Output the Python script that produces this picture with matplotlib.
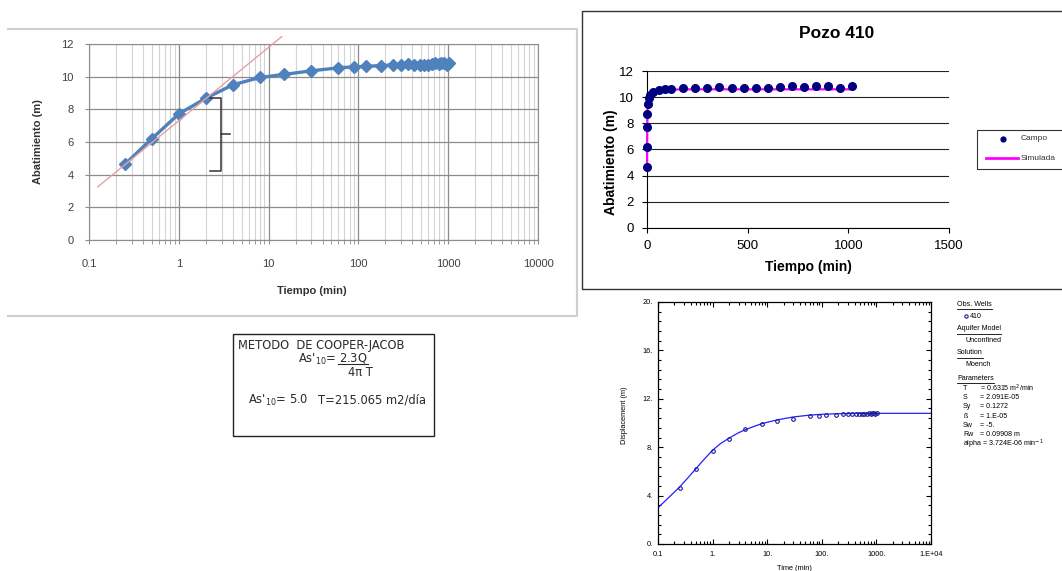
import matplotlib
matplotlib.use('Agg')
from matplotlib import pyplot as plt
from matplotlib.lines import Line2D
from matplotlib.patches import Rectangle
from matplotlib.ticker import LogLocator, NullFormatter, MultipleLocator, FuncFormatter, FixedLocator

plt.rcParams['font.family'] = ['Liberation Sans', 'DejaVu Sans']

# field drawdown, well 410
t_obs = [0.25, 0.5, 1, 2, 4, 8, 15, 30, 60, 90, 120, 180, 240, 300, 360, 420,
         480, 540, 600, 660, 720, 780, 840, 900, 960, 1020]
s_obs = [4.63, 6.2, 7.72, 8.68, 9.5, 9.95, 10.14, 10.36, 10.54, 10.6, 10.63, 10.68,
         10.72, 10.72, 10.78, 10.72, 10.72, 10.72, 10.72, 10.78, 10.85, 10.78,
         10.85, 10.85, 10.72, 10.85]

# simulated drawdown (Pozo 410 chart)
s_sim = [4.6, 6.2, 7.6, 8.7, 9.5, 9.95, 10.2, 10.4, 10.5, 10.55, 10.57, 10.6,
         10.6, 10.6, 10.6, 10.6, 10.6, 10.6, 10.6, 10.6, 10.6, 10.6, 10.6, 10.6,
         10.6, 10.6]

# Cooper-Jacob straight line
cj_t = [0.125, 14.0]
cj_s = [3.25, 12.45]

# Moench type curve (AQTESOLV)
aq_t = [0.1, 0.15, 0.2, 0.25, 0.35, 0.5, 0.7, 1, 1.4, 2, 3, 4, 6, 8, 15, 30,
        60, 100, 200, 500, 1000, 10000]
aq_s = [3.0, 3.75, 4.3, 4.72, 5.45, 6.25, 7.0, 7.75, 8.3, 8.75, 9.2, 9.45, 9.75,
        9.95, 10.25, 10.5, 10.65, 10.72, 10.77, 10.8, 10.8, 10.8]
aq_xlabels = ['0.1', '1.', '10.', '100.', '1000.', '1.E+04']
aq_ylabels = ['0.', '4.', '8.', '12.', '16.', '20.']

params = [('T', '= 0.6315 m$^{2}$/min'), ('S', '= 2.091E-05'), ('Sy', '= 0.1272'),
          ('ß', '= 1.E-05'), ('Sw', '= -5.'), ('Rw', '= 0.09908 m')]
alpha_line = 'alpha = 3.724E-06 min$^{-1}$'

W, H = 1062, 571


def fx(x):
    return x / W


def fy(y):
    return 1 - y / H


def box(x0, y0, x1, y1):
    return [x0 / W, 1 - y1 / H, (x1 - x0) / W, (y1 - y0) / H]


fig = plt.figure(figsize=(W / 100, H / 100), dpi=100)

# ---------- left: Excel semi-log chart ----------
fig.add_artist(Line2D([fx(8), fx(577), fx(577), fx(8)], [fy(29), fy(29), fy(316), fy(316)],
                      color='#cfcfcf', lw=1.5))
ax1 = fig.add_axes(box(89, 44, 538, 240))
ax1.set_xscale('log')
ax1.set_xlim(0.1, 10000)
ax1.set_ylim(0, 12)
ax1.xaxis.set_major_locator(LogLocator(base=10))
ax1.xaxis.set_minor_locator(LogLocator(base=10, subs=range(2, 10)))
ax1.xaxis.set_minor_formatter(NullFormatter())
ax1.xaxis.set_major_formatter(FuncFormatter(lambda v, p: '%g' % v))
ax1.yaxis.set_major_locator(MultipleLocator(2))
ax1.grid(which='major', color='#8c8c8c', lw=0.9)
ax1.grid(which='minor', axis='x', color='#d4d4d4', lw=0.8)
for sp in ax1.spines.values():
    sp.set_color('#8c8c8c')
ax1.tick_params(which='both', colors='#8c8c8c', labelcolor='#404040', labelsize=8, length=3)
ax1.tick_params(axis='x', pad=11)
ax1.tick_params(axis='y', pad=8)
ax1.plot(t_obs, s_obs, color='#4F81BD', lw=2.4, marker='D', ms=6, zorder=3)
ax1.plot(cj_t, cj_s, color='#E8A0A0', lw=1, clip_on=False, zorder=4)
ax1.plot([2.25, 2.98, 2.98, 2.25], [8.7, 8.7, 4.23, 4.23], color='#333333', lw=1.1, zorder=5)
ax1.plot([2.98, 3.69], [6.46, 6.46], color='#333333', lw=1.1, zorder=5)
ax1.set_ylabel('Abatimiento (m)', fontsize=8, fontweight='bold', color='#333333')
ax1.set_xlabel('Tiempo (min)', fontsize=8, fontweight='bold', color='#333333')
ax1.yaxis.set_label_coords(-0.103, 0.5)
ax1.xaxis.set_label_coords(0.497, -0.235)

# ---------- Cooper-Jacob text box ----------
fig.add_artist(Rectangle((fx(233), fy(436)), (434 - 233) / W, (436 - 334) / H,
                         transform=fig.transFigure, fill=False, edgecolor='#222222', lw=1))
tb = dict(fontsize=8.3, va='center', color='#2a2a2a', family='DejaVu Sans')
fig.text(fx(238), fy(345), 'METODO  DE COOPER-JACOB', **tb)
fig.text(fx(298), fy(359), "As'$_{\\rm 10}$= 2.3Q", **tb)
fig.add_artist(Line2D([fx(338), fx(368)], [fy(364), fy(364)], color='#2a2a2a', lw=0.8))
fig.text(fx(348), fy(373), '4π T', **tb)
fig.text(fx(248), fy(400), "As'$_{\\rm 10}$= 5.0", **tb)
fig.text(fx(318), fy(400), 'T=215.065 m2/día', **tb)

# ---------- top right: Pozo 410 ----------
fig.add_artist(Rectangle((fx(582), fy(289)), (1075 - 582) / W, (289 - 11) / H,
                         transform=fig.transFigure, fill=False, edgecolor='#333333', lw=1))
ax2 = fig.add_axes(box(647, 71, 949, 228))
ax2.set_xlim(0, 1500)
ax2.set_ylim(0, 12)
ax2.xaxis.set_major_locator(MultipleLocator(500))
ax2.yaxis.set_major_locator(MultipleLocator(2))
ax2.grid(axis='y', color='#222222', lw=0.8)
ax2.spines['top'].set_visible(False)
ax2.spines['right'].set_visible(False)
ax2.tick_params(labelsize=9.5, length=3.6)
ax2.tick_params(axis='y', pad=6)
ax2.tick_params(axis='x', pad=5)
ax2.plot(t_obs, s_sim, color='#FF00FF', lw=1.6, zorder=3, clip_on=False)
ax2.plot(t_obs, s_obs, 'o', color='#000080', ms=5.5, zorder=4, clip_on=False)
ax2.set_ylabel('Abatimiento (m)', fontsize=10, fontweight='bold')
ax2.set_xlabel('Tiempo (min)', fontsize=10, fontweight='bold')
ax2.yaxis.set_label_coords(-0.097, 0.42)
ax2.xaxis.set_label_coords(0.535, -0.204)
fig.text(fx(837), fy(33), 'Pozo 410', fontsize=12.5, fontweight='bold', ha='center', va='center')

fig.add_artist(Rectangle((fx(977), fy(169)), (1075 - 977) / W, (169 - 130) / H,
                         transform=fig.transFigure, fill=False, edgecolor='#333333', lw=0.8))
fig.add_artist(Line2D([fx(1003)], [fy(139)], marker='o', color='#000080', ms=3.5, lw=0))
fig.text(fx(1021), fy(139), 'Campo', fontsize=6, va='center', color='#333333')
fig.add_artist(Line2D([fx(986), fx(1018)], [fy(158), fy(158)], color='#FF00FF', lw=2))
fig.text(fx(1021), fy(158), 'Simulada', fontsize=6, va='center', color='#333333')

# ---------- bottom right: AQTESOLV ----------
ax3 = fig.add_axes(box(658, 302, 931, 544))
ax3.set_xscale('log')
ax3.set_xlim(0.1, 10000)
ax3.set_ylim(0, 20)
ax3.xaxis.set_major_locator(FixedLocator([0.1, 1, 10, 100, 1000, 10000]))
ax3.xaxis.set_minor_locator(LogLocator(base=10, subs=range(2, 10)))
ax3.xaxis.set_minor_formatter(NullFormatter())
ax3.set_xticklabels(aq_xlabels)
ax3.set_yticks([0, 4, 8, 12, 16, 20])
ax3.set_yticklabels(aq_ylabels)
ax3.yaxis.set_minor_locator(MultipleLocator(0.8))
ax3.tick_params(which='both', direction='in', top=True, right=True, labelsize=5.3, width=0.8)
ax3.tick_params(which='major', length=3.6)
ax3.tick_params(which='minor', length=2.2)
ax3.tick_params(axis='x', pad=5)
ax3.tick_params(axis='y', pad=3.5)
for sp in ax3.spines.values():
    sp.set_linewidth(0.9)
ax3.plot(aq_t, aq_s, color='#2020FF', lw=0.9)
ax3.plot(t_obs, s_obs, 'o', mfc='none', mec='#1a1a99', ms=2.6, mew=0.8)
ax3.set_xlabel('Time (min)', fontsize=5.3)
ax3.set_ylabel('Displacement (m)', fontsize=5.3)
ax3.xaxis.set_label_coords(0.498, -0.085)
ax3.yaxis.set_label_coords(-0.11, 0.53)

fs = 5.1
heads = []
heads.append(fig.text(fx(957), fy(304), 'Obs. Wells', fontsize=fs, va='center'))
fig.add_artist(Line2D([fx(966)], [fy(316)], marker='o', mfc='none', mec='#1a1a99', ms=2.4, mew=0.8, lw=0))
fig.text(fx(970), fy(316), '410', fontsize=fs, va='center')
heads.append(fig.text(fx(957), fy(329), 'Aquifer Model', fontsize=fs, va='center'))
fig.text(fx(965), fy(340), 'Unconfined', fontsize=fs, va='center')
heads.append(fig.text(fx(957), fy(353), 'Solution', fontsize=fs, va='center'))
fig.text(fx(965), fy(365), 'Moench', fontsize=fs, va='center')
heads.append(fig.text(fx(957), fy(378), 'Parameters', fontsize=fs, va='center'))
for i, (name, val) in enumerate(params):
    y = 388 + i * 9.4
    fig.text(fx(963), fy(y), name, fontsize=fs, va='center')
    fig.text(fx(980), fy(y), val, fontsize=fs, va='center')
fig.text(fx(963), fy(388 + 6 * 9.4), alpha_line, fontsize=fs, va='center')

fig.canvas.draw()
r = fig.canvas.get_renderer()
for t in heads:
    bb = t.get_window_extent(r)
    yline = bb.y0 - 1.0
    fig.add_artist(Line2D([bb.x0 / W, bb.x1 / W], [yline / H, yline / H], color='black', lw=0.6))

fig.savefig('out.png', dpi=100)
